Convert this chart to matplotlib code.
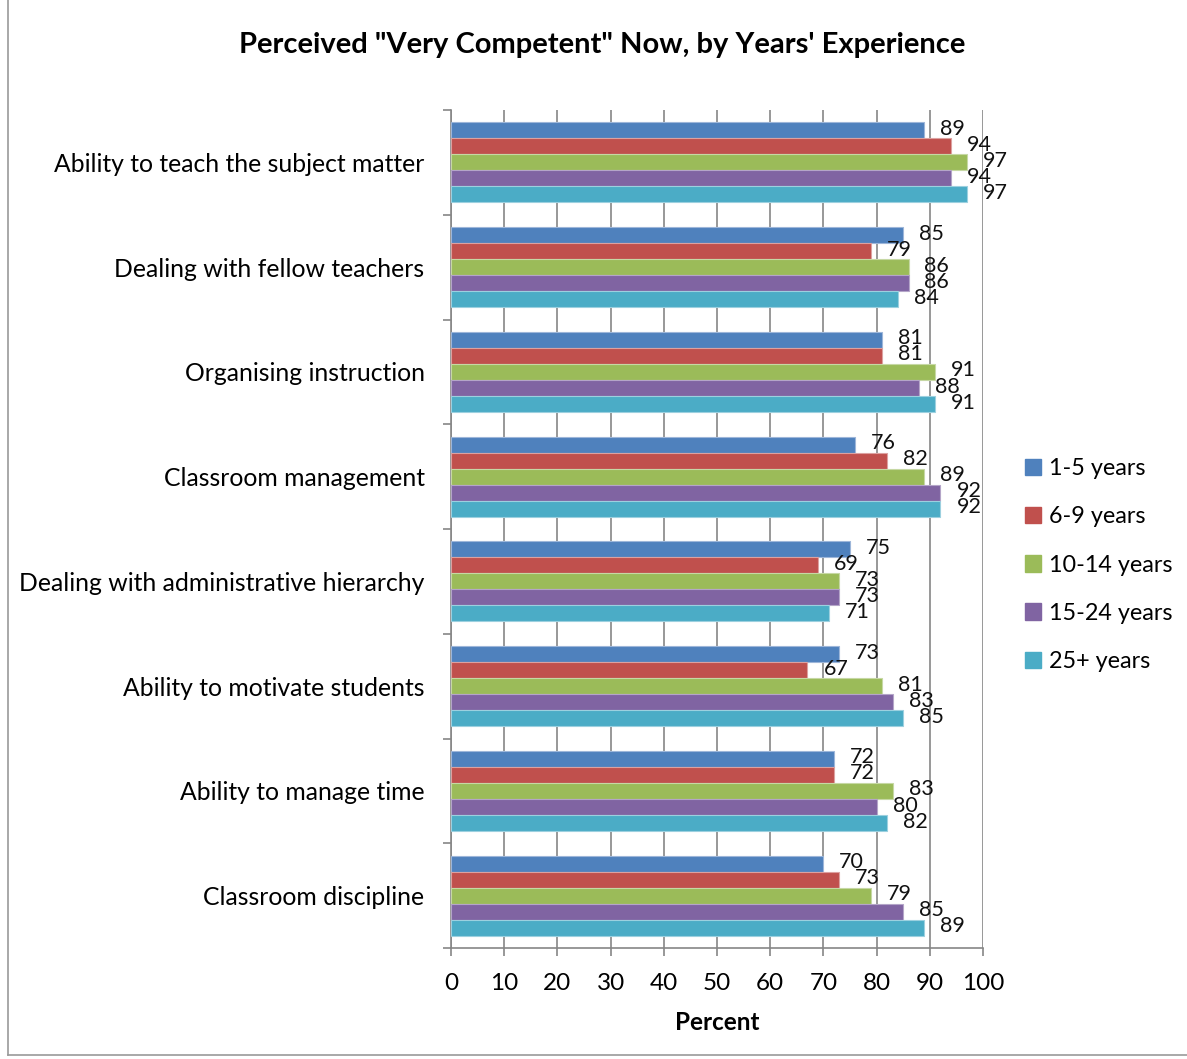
import matplotlib
matplotlib.use("Agg")
import matplotlib.pyplot as plt
from matplotlib.lines import Line2D
from matplotlib.patches import Patch
import numpy as np

plt.rcParams['font.family'] = ['Lato', 'DejaVu Sans']

categories = [
    "Ability to teach the subject matter",
    "Dealing with fellow teachers",
    "Organising instruction",
    "Classroom management",
    "Dealing with administrative hierarchy",
    "Ability to motivate students",
    "Ability to manage time",
    "Classroom discipline",
]
series_names = ["1-5 years", "6-9 years", "10-14 years", "15-24 years", "25+ years"]
yrs_1_5 = [89, 85, 81, 76, 75, 73, 72, 70]
yrs_6_9 = [94, 79, 81, 82, 69, 67, 72, 73]
yrs_10_14 = [97, 86, 91, 89, 73, 81, 83, 79]
yrs_15_24 = [94, 86, 88, 92, 73, 83, 80, 85]
yrs_25_plus = [97, 84, 91, 92, 71, 85, 82, 89]
x_ticks = [0, 10, 20, 30, 40, 50, 60, 70, 80, 90, 100]

series = [yrs_1_5, yrs_6_9, yrs_10_14, yrs_15_24, yrs_25_plus]
colors = ["#4F81BD", "#C0504D", "#9BBB59", "#8064A2", "#4BACC6"]
edges = ["#9DB6D9", "#DCA1A0", "#C6D8A4", "#B4A5C8", "#9CD0DF"]

fig = plt.figure(figsize=(11.87, 10.59), dpi=100)
ax = fig.add_axes([451 / 1187, 1 - 948 / 1059, 532 / 1187, 838 / 1059])

n = len(series)
bar_h = 0.153
ypos = np.arange(len(categories))
for i, (vals, c, ec) in enumerate(zip(series, colors, edges)):
    y = ypos - (n - 1) / 2 * bar_h + i * bar_h
    ax.barh(y, vals, height=bar_h, color=c, edgecolor=ec, linewidth=0.8,
            label=series_names[i], zorder=3)
    for yy, v in zip(y, vals):
        ax.annotate(f"{v}", xy=(v, yy), xytext=(11.5, 1), textcoords="offset points",
                    ha="left", va="center", fontsize=15.5, color="#111111", zorder=4)

ax.set_xlim(0, 100)
ax.set_ylim(len(categories) - 0.5, -0.5)
ax.set_xticks(x_ticks)
ax.set_xticklabels([str(t) for t in x_ticks], fontsize=17.5)
ax.tick_params(axis="x", length=6, width=1.2, color="#868686", pad=12)

ax.set_yticks(np.arange(-0.5, len(categories)), minor=False)
ax.set_yticklabels([])
ax.set_yticks(ypos, minor=True)
ax.set_yticklabels(categories, minor=True, fontsize=17.8)
ax.tick_params(axis="y", which="major", length=6, width=1.2, color="#868686")
ax.tick_params(axis="y", which="minor", length=0, pad=19)

ax.grid(axis="x", color="#868686", linewidth=1.2, zorder=0)
ax.set_axisbelow(True)
for s in ["top", "right"]:
    ax.spines[s].set_visible(False)
for s in ["left", "bottom"]:
    ax.spines[s].set_color("#868686")
    ax.spines[s].set_linewidth(1.2)

ax.set_xlabel("Percent", fontsize=17.5, fontweight="bold", labelpad=12)

fig.text(602 / 1187, 1 - 45 / 1059, 'Perceived "Very Competent" Now, by Years\' Experience',
         ha="center", va="center", fontsize=21, fontweight="bold")

handles = [Patch(facecolor=c, edgecolor=c) for c in colors]
fig.legend(handles, series_names, loc="center left",
           bbox_to_anchor=(1004 / 1187, 1 - 565 / 1059), frameon=False,
           fontsize=16.8, handlelength=0.7, handleheight=0.7,
           handletextpad=0.35, labelspacing=1.17)

# outer frame edges
fig.add_artist(Line2D([8 / 1187, 8 / 1187], [4 / 1059, 1.0], transform=fig.transFigure,
                      color="#9a9a9a", linewidth=1.2))
fig.add_artist(Line2D([8 / 1187, 1.0], [4 / 1059, 4 / 1059], transform=fig.transFigure,
                      color="#9a9a9a", linewidth=1.2))

fig.savefig("out.png", dpi=100, facecolor="white")
